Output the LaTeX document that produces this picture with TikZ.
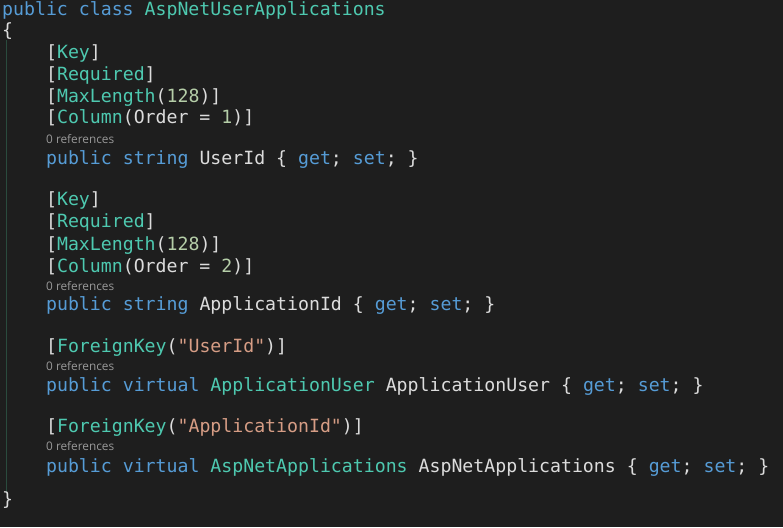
\documentclass[tikz,border=0pt]{standalone}
\usepackage{fontspec}
\setmonofont{DejaVu Sans Mono}
\newfontfamily\lensfont{Open Sans}
\definecolor{bg}{HTML}{1E1E1E}
\definecolor{plain}{HTML}{DCDCDC}
\definecolor{kw}{HTML}{569CD6}
\definecolor{ty}{HTML}{4EC9B0}
\definecolor{strg}{HTML}{D69D85}
\definecolor{numb}{HTML}{B5CEA8}
\definecolor{lens}{HTML}{999999}
\definecolor{guide}{HTML}{2A4B3E}
\newcommand{\kw}[1]{\textcolor{kw}{#1}}
\newcommand{\ty}[1]{\textcolor{ty}{#1}}
\newcommand{\strg}[1]{\textcolor{strg}{#1}}
\newcommand{\numb}[1]{\textcolor{numb}{#1}}
\tikzset{
  code/.style={anchor=base west, inner sep=0pt, text=plain, font=\ttfamily\fontsize{18.2}{22}\selectfont\frenchspacing},
  lens/.style={anchor=base west, inner sep=0pt, text=lens, font=\lensfont\fontsize{11.8}{13}\selectfont}
}
\begin{document}
\begin{tikzpicture}[x=1pt,y=-1pt]
        \fill[bg] (0,0) rectangle (783,527);
        \draw[guide, line width=1.5pt] (6.5,40) -- (6.5,493);
        \node[code] (head) at (2,16) {\kw{public} \kw{class} \ty{AspNetUserApplications}};
        \node[code] (open) at (2,37) {\{};
        \node[code] (key1) at (45.9,58.3) {[\ty{Key}]};
        \node[code] (req1) at (45.9,80) {[\ty{Required}]};
        \node[code] (max1) at (45.9,102) {[\ty{MaxLength}(\numb{128})]};
        \node[code] (col1) at (45.9,123.5) {[\ty{Column}(Order = \numb{1})]};
        \node[lens] (ref1) at (46,143) {0 references};
        \node[code] (uid) at (45.9,164) {\kw{public} \kw{string} UserId \{ \kw{get}; \kw{set}; \}};
        \node[code] (key2) at (45.9,205) {[\ty{Key}]};
        \node[code] (req2) at (45.9,227.5) {[\ty{Required}]};
        \node[code] (max2) at (45.9,250) {[\ty{MaxLength}(\numb{128})]};
        \node[code] (col2) at (45.9,272) {[\ty{Column}(Order = \numb{2})]};
        \node[lens] (ref2) at (46,290) {0 references};
        \node[code] (aid) at (45.9,310) {\kw{public} \kw{string} ApplicationId \{ \kw{get}; \kw{set}; \}};
        \node[code] (fk1) at (45.9,352.5) {[\ty{ForeignKey}(\strg{"UserId"})]};
        \node[lens] (ref3) at (46,370) {0 references};
        \node[code] (user) at (45.9,391.5) {\kw{public} \kw{virtual} \ty{ApplicationUser} ApplicationUser \{ \kw{get}; \kw{set}; \}};
        \node[code] (fk2) at (45.9,432.5) {[\ty{ForeignKey}(\strg{"ApplicationId"})]};
        \node[lens] (ref4) at (46,450) {0 references};
        \node[code] (apps) at (45.9,472) {\kw{public} \kw{virtual} \ty{AspNetApplications} AspNetApplications \{ \kw{get}; \kw{set}; \}};
        \node[code] (close) at (2,505) {\}};
      \end{tikzpicture}
\end{document}
